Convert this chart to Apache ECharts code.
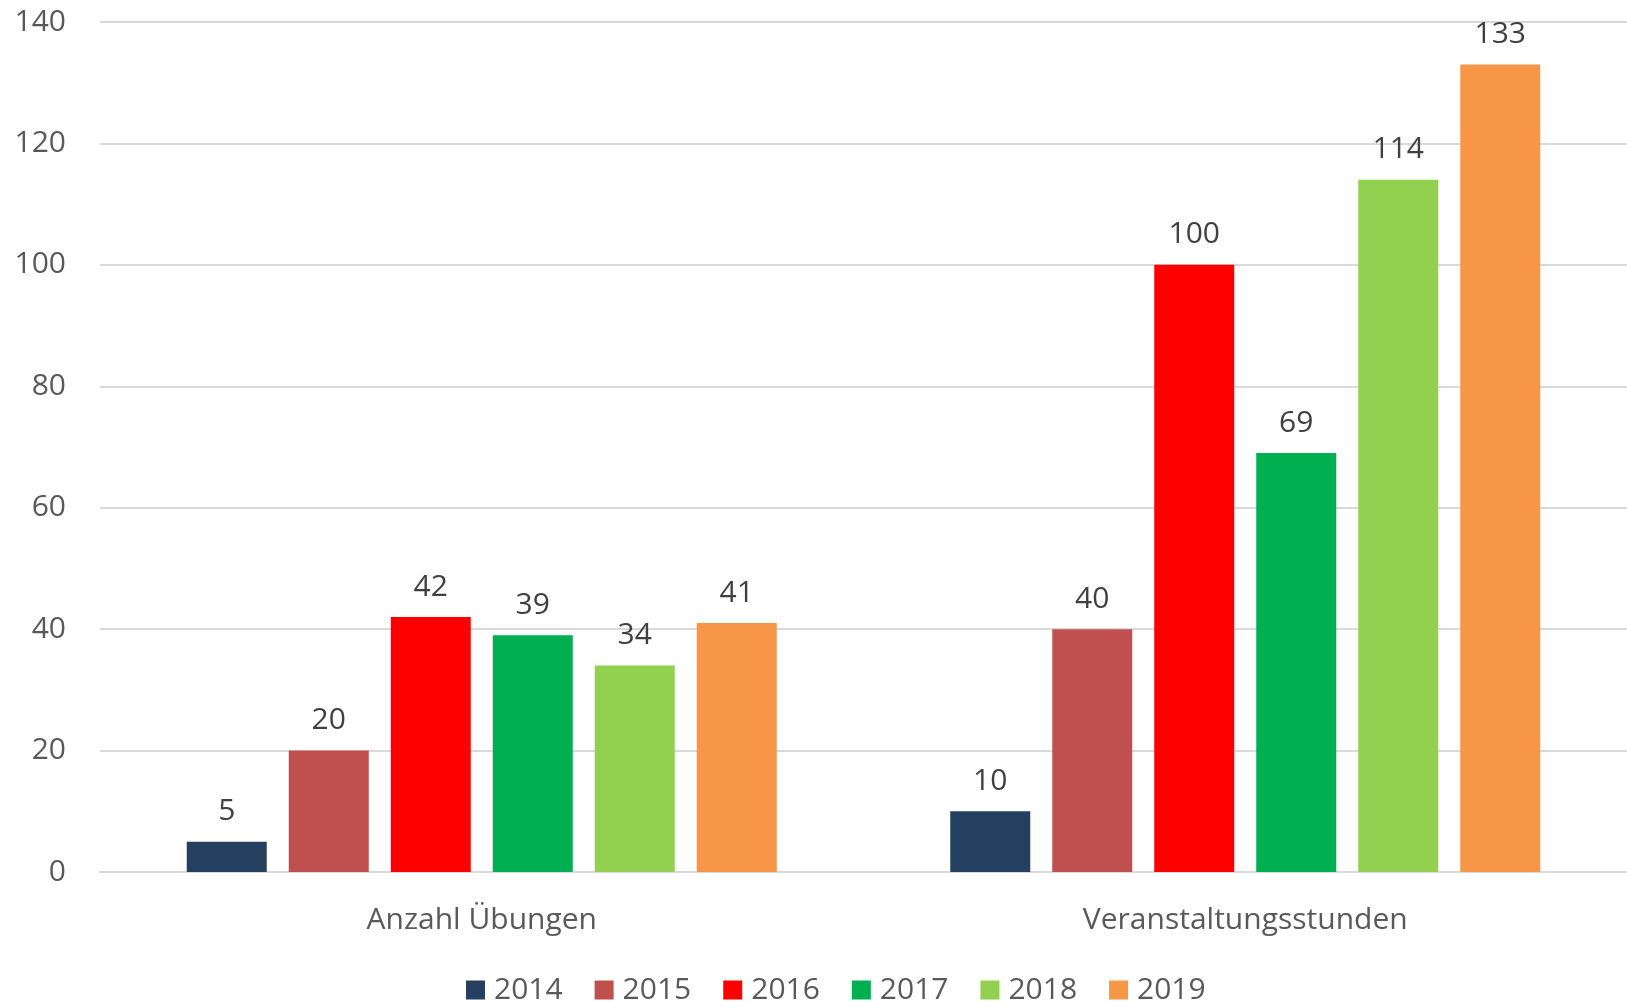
<!DOCTYPE html>
<html>
<head>
<meta charset="utf-8">
<script src="https://cdn.jsdelivr.net/npm/echarts@6/dist/echarts.min.js"></script>
<style>html,body{margin:0;padding:0;background:#fff;}#c{width:1627px;height:1002px;}</style>
</head>
<body>
<div id="c"></div>
<script>
const categories = ['Anzahl Übungen', 'Veranstaltungsstunden'];
const years = ['2014', '2015', '2016', '2017', '2018', '2019'];
const v2014 = [5, 10];
const v2015 = [20, 40];
const v2016 = [42, 100];
const v2017 = [39, 69];
const v2018 = [34, 114];
const v2019 = [41, 133];
const yTicks = [0, 20, 40, 60, 80, 100, 120, 140];

const seriesValues = [v2014, v2015, v2016, v2017, v2018, v2019];
const colors = ['#243F60', '#C0504D', '#FF0000', '#00B050', '#92D050', '#F79646'];
const FONT = 'Open Sans';

const chart = echarts.init(document.getElementById('c'));
chart.setOption({
  animation: false,
  backgroundColor: '#fff',
  grid: { left: 100, right: 0, top: 22, bottom: 130, containLabel: false },
  legend: {
    left: 461, top: 970,
    itemWidth: 19, itemHeight: 19, itemGap: 32,
    icon: 'rect',
    textStyle: { fontFamily: FONT, fontSize: 30, color: '#595959', padding: [0, 0, 0, 4] },
    data: years
  },
  xAxis: {
    type: 'category',
    data: categories,
    axisLine: { lineStyle: { color: '#d9d9d9', width: 2 } },
    axisTick: { show: false },
    axisLabel: { fontFamily: FONT, fontSize: 30, color: '#595959', margin: 33 }
  },
  yAxis: {
    type: 'value',
    min: yTicks[0], max: yTicks[yTicks.length - 1], interval: 20,
    axisLine: { show: false },
    axisTick: { show: false },
    splitLine: { lineStyle: { color: '#d9d9d9', width: 2 } },
    axisLabel: { fontFamily: FONT, fontSize: 30, color: '#595959', margin: 34 }
  },
  series: years.map((y, i) => ({
    name: y,
    type: 'bar',
    data: seriesValues[i],
    barWidth: 80,
    barGap: '27.5%',
    itemStyle: { color: colors[i] },
    label: {
      show: true, position: 'top', distance: 15,
      fontFamily: FONT, fontSize: 30, color: '#404040'
    }
  }))
});
</script>
</body>
</html>
